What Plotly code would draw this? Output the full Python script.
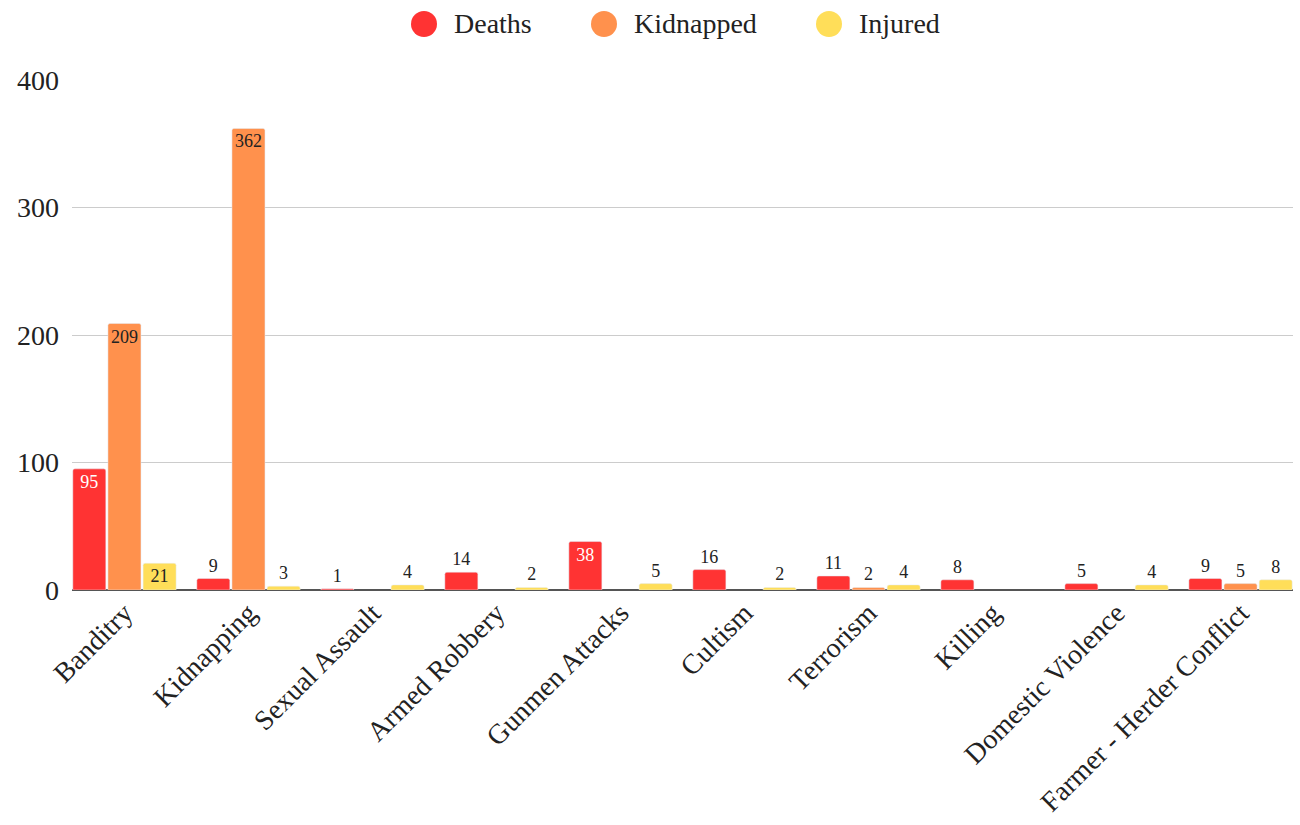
import plotly.graph_objects as go

categories = ["Banditry", "Kidnapping", "Sexual Assault", "Armed Robbery", "Gunmen Attacks",
              "Cultism", "Terrorism", "Killing", "Domestic Violence", "Farmer - Herder Conflict"]
deaths = [95, 9, 1, 14, 38, 16, 11, 8, 5, 9]
kidnapped = [209, 362, None, None, None, None, 2, None, None, 5]
injured = [21, 3, 4, 2, 5, 2, 4, None, 4, 8]
y_ticks = [0, 100, 200, 300, 400]

series = [
    ("Deaths", deaths, "#FF3333", "white"),
    ("Kidnapped", kidnapped, "#FF914D", "#222222"),
    ("Injured", injured, "#FFDE59", "#222222"),
]

FONT = "Liberation Serif"
W, H = 1300, 825
fig = go.Figure()
for name, vals, color, incol in series:
    pos = []
    cols = []
    for v in vals:
        if v is not None and v >= 20:
            pos.append("inside")
            cols.append(incol)
        else:
            pos.append("outside")
            cols.append("#222222")
    fig.add_trace(go.Bar(
        x=categories, y=vals, name=name, marker_color=color,
        text=[str(v) if v is not None else "" for v in vals],
        textposition=pos, insidetextanchor="end",
        textfont=dict(family=FONT, size=18, color=cols),
        constraintext="none", cliponaxis=False, showlegend=False,
    ))

# custom legend (large circles) placed in paper coordinates
legend_x = [424, 604, 829]  # circle centers in px
legend_y = 24
shapes = []
annotations = []
for (name, _, color, _), cx in zip(series, legend_x):
    shapes.append(dict(type="circle", xref="paper", yref="paper",
                       xsizemode="pixel", ysizemode="pixel",
                       xanchor=(cx - 72) / (W - 72 - 7), yanchor=1 + (80 - legend_y) / (H - 80 - 235),
                       x0=-13, x1=13, y0=-13, y1=13,
                       fillcolor=color, line=dict(width=0)))
    annotations.append(dict(text=name, xref="paper", yref="paper",
                            x=(cx + 28 - 72) / (W - 72 - 7), y=1 + (80 - legend_y) / (H - 80 - 235),
                            xanchor="left", yanchor="middle", showarrow=False,
                            font=dict(family=FONT, size=28, color="#222222")))

fig.update_layout(
    width=W, height=H,
    margin=dict(l=72, r=7, t=80, b=235),
    paper_bgcolor="white", plot_bgcolor="white",
    barmode="group", bargap=0.15, bargroupgap=0.06, barcornerradius=2,
    font=dict(family=FONT, size=24, color="#222222"),
    showlegend=False,
    shapes=shapes, annotations=annotations,
)
fig.update_xaxes(range=[-0.423, 9.423], tickangle=-45, showgrid=False,
                 tickfont=dict(family=FONT, size=28, color="#222222"), ticks="")
fig.update_yaxes(range=[0, 400], tickvals=y_ticks, showgrid=True, gridcolor="#CCCCCC",
                 zeroline=True, zerolinecolor="#555555", zerolinewidth=1.5,
                 tickfont=dict(family=FONT, size=28, color="#222222"), ticks="",
                 ticklabelstandoff=12)
fig.write_html("out.html")
